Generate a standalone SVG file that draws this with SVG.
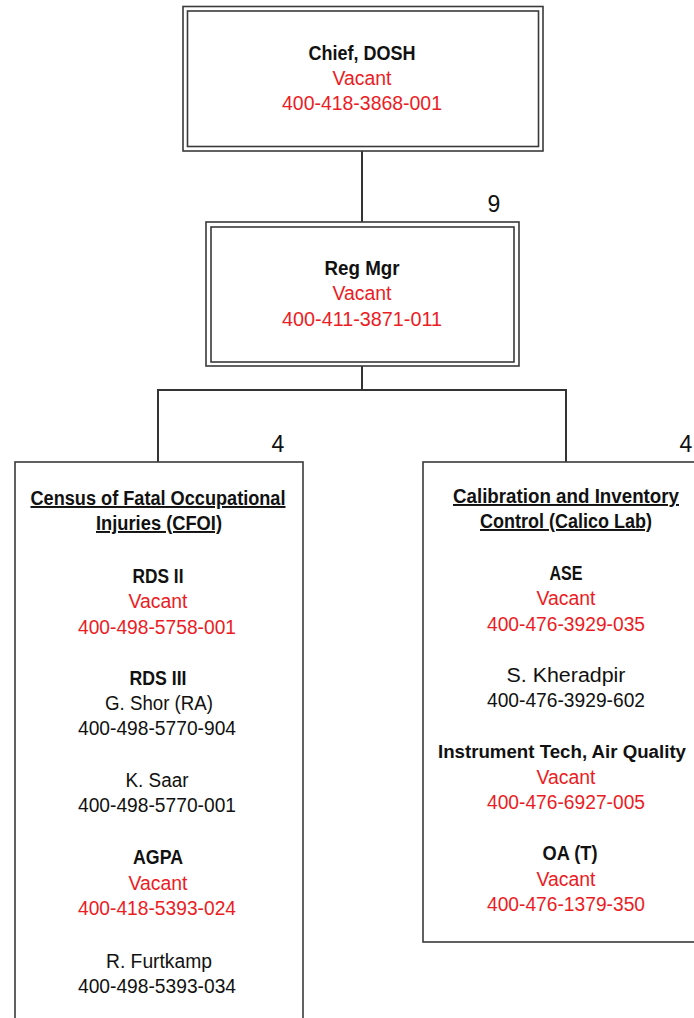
<svg xmlns="http://www.w3.org/2000/svg" width="694" height="1018" viewBox="0 0 694 1018">
<style>
text{font-family:"Liberation Sans",Arial,sans-serif;font-size:19.5px;text-anchor:middle}
.b{font-weight:bold;fill:#111}
.r{fill:#ec1c24}
.k{fill:#111}
.u{font-weight:bold;fill:#111;text-decoration:underline}
.n{font-size:23px;fill:#111}
.box{fill:#fff;stroke:#3a3a3a;stroke-width:1.6}
.ln{fill:none;stroke:#333;stroke-width:2}
</style>
<rect width="694" height="1018" fill="#fff"/>
<g id="connectors">
<path class="ln" d="M362 151V222M362 366V390M158 390H566M158 389V462M566 389V462"/>
</g>
<g id="chief">
<rect class="box" x="183" y="6.5" width="360" height="144.5"/>
<rect class="box" x="187.5" y="11" width="351" height="135.5"/>
<text class="b" x="362" y="60" textLength="107" lengthAdjust="spacingAndGlyphs">Chief, DOSH</text>
<text class="r" x="362" y="85" textLength="59" lengthAdjust="spacingAndGlyphs">Vacant</text>
<text class="r" x="362" y="110" textLength="160" lengthAdjust="spacingAndGlyphs">400-418-3868-001</text>
</g>
<g id="regmgr">
<text class="n" x="494" y="212">9</text>
<rect class="box" x="206" y="222" width="313" height="144"/>
<rect class="box" x="211" y="227" width="303" height="135"/>
<text class="b" x="362" y="275" textLength="75" lengthAdjust="spacingAndGlyphs">Reg Mgr</text>
<text class="r" x="362" y="300" textLength="59" lengthAdjust="spacingAndGlyphs">Vacant</text>
<text class="r" x="362" y="326" textLength="160" lengthAdjust="spacingAndGlyphs">400-411-3871-011</text>
</g>
<g id="cfoi">
<text class="n" x="278" y="452">4</text>
<rect class="box" x="15" y="462" width="288" height="570"/>
<text class="u" x="158" y="505" textLength="255" lengthAdjust="spacingAndGlyphs">Census of Fatal Occupational</text>
<text class="u" x="159" y="530" textLength="126" lengthAdjust="spacingAndGlyphs">Injuries (CFOI)</text>
<text class="b" x="158" y="583" textLength="51" lengthAdjust="spacingAndGlyphs">RDS II</text>
<text class="r" x="158" y="608" textLength="59" lengthAdjust="spacingAndGlyphs">Vacant</text>
<text class="r" x="157" y="634" textLength="158" lengthAdjust="spacingAndGlyphs">400-498-5758-001</text>
<text class="b" x="158" y="685" textLength="57" lengthAdjust="spacingAndGlyphs">RDS III</text>
<text class="k" x="159" y="710" textLength="108" lengthAdjust="spacingAndGlyphs">G. Shor (RA)</text>
<text class="k" x="157" y="735" textLength="158" lengthAdjust="spacingAndGlyphs">400-498-5770-904</text>
<text class="k" x="157" y="787" textLength="63" lengthAdjust="spacingAndGlyphs">K. Saar</text>
<text class="k" x="157" y="812" textLength="158" lengthAdjust="spacingAndGlyphs">400-498-5770-001</text>
<text class="b" x="158" y="864" textLength="50" lengthAdjust="spacingAndGlyphs">AGPA</text>
<text class="r" x="158" y="890" textLength="59" lengthAdjust="spacingAndGlyphs">Vacant</text>
<text class="r" x="157" y="915" textLength="158" lengthAdjust="spacingAndGlyphs">400-418-5393-024</text>
<text class="k" x="159" y="968" textLength="106" lengthAdjust="spacingAndGlyphs">R. Furtkamp</text>
<text class="k" x="157" y="993" textLength="158" lengthAdjust="spacingAndGlyphs">400-498-5393-034</text>
</g>
<g id="calico">
<text class="n" x="686" y="452">4</text>
<rect class="box" x="423" y="462" width="290" height="480"/>
<text class="u" x="566" y="503" textLength="226" lengthAdjust="spacingAndGlyphs">Calibration and Inventory</text>
<text class="u" x="566" y="528" textLength="172" lengthAdjust="spacingAndGlyphs">Control (Calico Lab)</text>
<text class="b" x="566" y="580" textLength="33" lengthAdjust="spacingAndGlyphs">ASE</text>
<text class="r" x="566" y="605" textLength="59" lengthAdjust="spacingAndGlyphs">Vacant</text>
<text class="r" x="566" y="631" textLength="158" lengthAdjust="spacingAndGlyphs">400-476-3929-035</text>
<text class="k" x="566" y="682" textLength="119" lengthAdjust="spacingAndGlyphs">S. Kheradpir</text>
<text class="k" x="566" y="707" textLength="158" lengthAdjust="spacingAndGlyphs">400-476-3929-602</text>
<text class="b" x="562" y="758" style="font-size:18px" textLength="248" lengthAdjust="spacingAndGlyphs">Instrument Tech, Air Quality</text>
<text class="r" x="566" y="784" textLength="59" lengthAdjust="spacingAndGlyphs">Vacant</text>
<text class="r" x="566" y="809" textLength="158" lengthAdjust="spacingAndGlyphs">400-476-6927-005</text>
<text class="b" x="570" y="860" textLength="55" lengthAdjust="spacingAndGlyphs">OA (T)</text>
<text class="r" x="566" y="886" textLength="59" lengthAdjust="spacingAndGlyphs">Vacant</text>
<text class="r" x="566" y="911" textLength="158" lengthAdjust="spacingAndGlyphs">400-476-1379-350</text>
</g>
</svg>
